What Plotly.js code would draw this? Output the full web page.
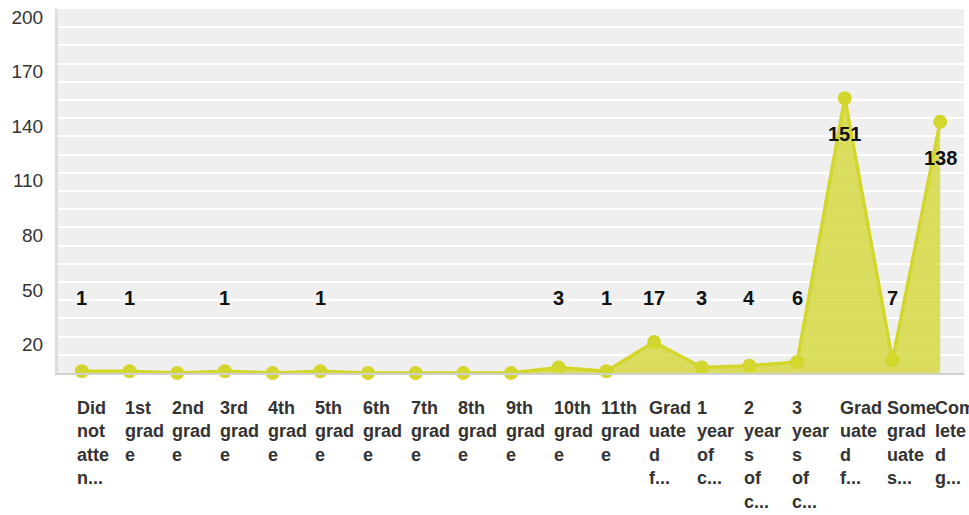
<!DOCTYPE html>
<html>
<head>
<meta charset="utf-8">
<script src="https://cdn.plot.ly/plotly-3.0.1.min.js"></script>
<style>html,body{margin:0;padding:0;background:#fff;overflow:hidden;}</style>
</head>
<body>
<div id="chart" style="width:969px;height:515px;"></div>
<script>
const categories = [
  "Did not attend", "1st grade", "2nd grade", "3rd grade", "4th grade", "5th grade",
  "6th grade", "7th grade", "8th grade", "9th grade", "10th grade", "11th grade",
  "Graduated from high school", "1 year of college", "2 years of college", "3 years of college",
  "Graduated from college", "Some graduate school", "Completed graduate school"
];
const tickLabels = [
  "Did<br>not<br>atte<br>n...", "1st<br>grad<br>e", "2nd<br>grad<br>e", "3rd<br>grad<br>e",
  "4th<br>grad<br>e", "5th<br>grad<br>e", "6th<br>grad<br>e", "7th<br>grad<br>e",
  "8th<br>grad<br>e", "9th<br>grad<br>e", "10th<br>grad<br>e", "11th<br>grad<br>e",
  "Grad<br>uate<br>d<br>f...", "1<br>year<br>of<br>c...", "2<br>year<br>s<br>of<br>c...",
  "3<br>year<br>s<br>of<br>c...", "Grad<br>uate<br>d<br>f...", "Some<br>grad<br>uate<br>s...",
  "Com<br>lete<br>d<br>g..."
];
const values = [1, 1, 0, 1, 0, 1, 0, 0, 0, 0, 3, 1, 17, 3, 4, 6, 151, 7, 138];
const yTicks = [20, 50, 80, 110, 140, 170, 200];

const idx = categories.map((_, i) => i);
const lineColor = "#d3d62c";

const annotations = [];
values.forEach((v, i) => {
  if (v > 0) {
    annotations.push({
      x: i, y: Math.max(v, 61), xref: "x", yref: "y",
      text: "<b>" + v + "</b>", showarrow: false,
      yshift: -36, xanchor: "center", yanchor: "middle",
      font: {family: "Liberation Sans, Arial, sans-serif", size: 20, color: "#111"}
    });
  }
});
tickLabels.forEach((t, i) => {
  annotations.push({
    x: i, y: 0, xref: "x", yref: "paper",
    text: "<b>" + t + "</b>", showarrow: false, align: "left",
    xanchor: "left", yanchor: "top", xshift: -7, yshift: -23,
    font: {family: "Liberation Sans, Arial, sans-serif", size: 18, color: "#333"}
  });
});

const trace = {
  x: idx, y: values, type: "scatter", mode: "lines+markers",
  fill: "tozeroy", fillcolor: "rgba(212,216,60,0.82)",
  line: {color: lineColor, width: 3.5},
  marker: {color: lineColor, size: 14},
  cliponaxis: false, hoverinfo: "none"
};

const layout = {
  width: 969, height: 515,
  margin: {l: 58, r: 5, t: 9, b: 142, pad: 0},
  paper_bgcolor: "#ffffff", plot_bgcolor: "#efefef",
  showlegend: false,
  font: {family: "Liberation Sans, Arial, sans-serif"},
  xaxis: {
    range: [-0.5, 18.5], showticklabels: false, showgrid: false, zeroline: false,
    showline: true, linecolor: "#d0d0d0", linewidth: 2, ticks: ""
  },
  yaxis: {
    range: [0, 200], tickvals: yTicks, ticktext: yTicks.map(String),
    showgrid: true, gridcolor: "#ffffff", gridwidth: 2,
    minor: {dtick: 10, tick0: 0, showgrid: true, gridcolor: "#ffffff", gridwidth: 2},
    zeroline: false, showline: true, linecolor: "#dddddd", linewidth: 3,
    ticks: "", ticklabelshift: 8, ticklabelstandoff: 8,
    tickfont: {family: "Liberation Sans, Arial, sans-serif", size: 19, color: "#333"}
  },
  annotations: annotations
};

Plotly.newPlot("chart", [trace], layout, {displayModeBar: false, staticPlot: true});
</script>
</body>
</html>
